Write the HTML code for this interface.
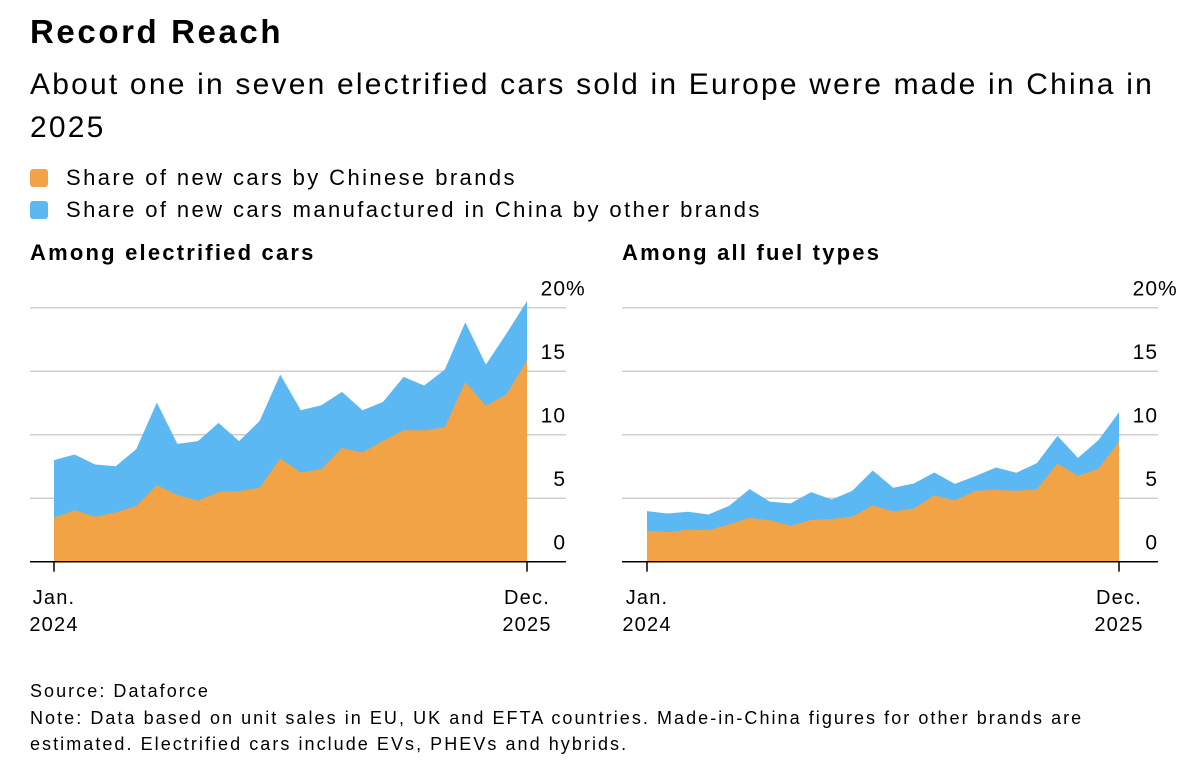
<!DOCTYPE html>
<html><head><meta charset="utf-8">
<style>
body{margin:0;background:#fff;width:1200px;height:769px;overflow:hidden;font-family:"Liberation Sans",sans-serif;color:#000}
.t{position:absolute;white-space:nowrap}
#title{left:30px;top:13px;font-size:33px;font-weight:bold;letter-spacing:2.6px}
#sub{left:30px;top:63px;font-size:30px;line-height:43px;white-space:normal;width:1160px;letter-spacing:2.2px}
.leg{left:30px;font-size:22px;letter-spacing:2.4px}
.sw{display:inline-block;width:18px;height:18px;border-radius:3px;margin-right:18px;vertical-align:-2px}
.pt{font-size:22px;font-weight:bold;top:240px;letter-spacing:2.2px}
.foot{left:30px;font-size:18px;letter-spacing:2.05px}
svg{position:absolute;left:0;top:0}
</style></head><body>
<div class="t" id="title">Record Reach</div>
<div class="t" id="sub">About one in seven electrified cars sold in Europe were made in China in 2025</div>
<div class="t leg" style="top:165px"><span class="sw" style="background:#f2a345"></span>Share of new cars by Chinese brands</div>
<div class="t leg" style="top:197px"><span class="sw" style="background:#5bb8f2"></span>Share of new cars manufactured in China by other brands</div>
<div class="t pt" style="left:30px">Among electrified cars</div>
<div class="t pt" style="left:622px">Among all fuel types</div>
<div class="t foot" style="top:681px">Source: Dataforce</div>
<div class="t foot" style="top:708px">Note: Data based on unit sales in EU, UK and EFTA countries. Made-in-China figures for other brands are</div>
<div class="t foot" style="top:734px">estimated. Electrified cars include EVs, PHEVs and hybrids.</div>
<svg id="chart" width="1200" height="769"></svg>
<script>
const yTicks=[0,5,10,15,20];
const yTickLabels=["0","5","10","15","20"];
const xTickLabels=[["Jan.","2024"],["Dec.","2025"]];
const elecChinese=[3.46,4.06,3.54,3.88,4.40,6.03,5.24,4.82,5.48,5.56,5.82,8.13,7.02,7.29,8.96,8.60,9.52,10.35,10.35,10.59,14.15,12.27,13.18,15.86];
const elecTotal=[8.0,8.44,7.65,7.52,8.86,12.53,9.28,9.49,10.93,9.49,11.09,14.73,11.93,12.32,13.37,11.93,12.58,14.55,13.87,15.12,18.85,15.52,17.96,20.52];
const allChinese=[2.44,2.33,2.52,2.49,2.94,3.46,3.25,2.83,3.28,3.36,3.56,4.43,3.96,4.19,5.22,4.82,5.58,5.66,5.58,5.71,7.73,6.76,7.34,9.44];
const allTotal=[3.98,3.80,3.93,3.72,4.40,5.71,4.72,4.59,5.48,4.90,5.58,7.18,5.82,6.16,7.02,6.13,6.74,7.42,7.00,7.76,9.91,8.18,9.57,11.77];
const elecOther=elecTotal.map((t,i)=>t-elecChinese[i]);
const allOther=allTotal.map((t,i)=>t-allChinese[i]);
const NS="http://www.w3.org/2000/svg";
const svg=document.getElementById('chart');
function mk(tag,a,parent){const e=document.createElementNS(NS,tag);for(const k in a)e.setAttribute(k,a[k]);(parent||svg).appendChild(e);return e;}
function panel(name,gx0,gx1,px0,px1,chinese,other){
  const g=mk('g',{});
  
  
  const y=v=>561.7-v*12.7;
  const n=chinese.length;
  const x=i=>px0+i*(px1-px0)/(n-1);
  yTicks.forEach((t,k)=>{
    if(t>0){const l=mk('line',{x1:gx0,x2:gx1,y1:y(t),y2:y(t),stroke:'#cfcfcf','stroke-width':1.5},g);
    
    }
    const tx=mk('text',{x:gx1,y:y(t)-12,'text-anchor':'end','font-size':21,'letter-spacing':1,'font-family':'Liberation Sans, sans-serif'},g);
    tx.textContent=yTickLabels[k];
    
    
    if(k===yTicks.length-1){
      const pc=mk('text',{x:gx1,y:y(t)-12,'font-size':21,'font-family':'Liberation Sans, sans-serif'},g);
      pc.textContent='%';
      
      
    }
  });
  let top=chinese.map((c,i)=>c+other[i]);
  let d='M'+x(0)+','+y(0);top.forEach((v,i)=>d+='L'+x(i)+','+y(v));d+='L'+x(n-1)+','+y(0)+'Z';
  const a1=mk('path',{d:d,fill:'#5bb8f2'},g);
  
  
  d='M'+x(0)+','+y(0);chinese.forEach((v,i)=>d+='L'+x(i)+','+y(v));d+='L'+x(n-1)+','+y(0)+'Z';
  const a2=mk('path',{d:d,fill:'#f2a345'},g);
  
  
  const ax=mk('line',{x1:gx0,x2:gx1,y1:y(0),y2:y(0),stroke:'#000','stroke-width':1.5},g);
  
  
  [0,n-1].forEach((i,k)=>{
    const tk=mk('line',{x1:x(i),x2:x(i),y1:y(0),y2:y(0)+10,stroke:'#000','stroke-width':1.5},g);
    
    
    xTickLabels[k].forEach((s,j)=>{
      const tx=mk('text',{x:x(i),y:604+j*27,'text-anchor':'middle','font-size':20,'letter-spacing':1.2,'font-family':'Liberation Sans, sans-serif'},g);
      tx.textContent=s;
      
      
    });
  });
}
panel('left-chart-electrified',30,566,54,527,elecChinese,elecOther);
panel('right-chart-all-fuel',622,1158,647,1119,allChinese,allOther);
</script>
</body></html>
